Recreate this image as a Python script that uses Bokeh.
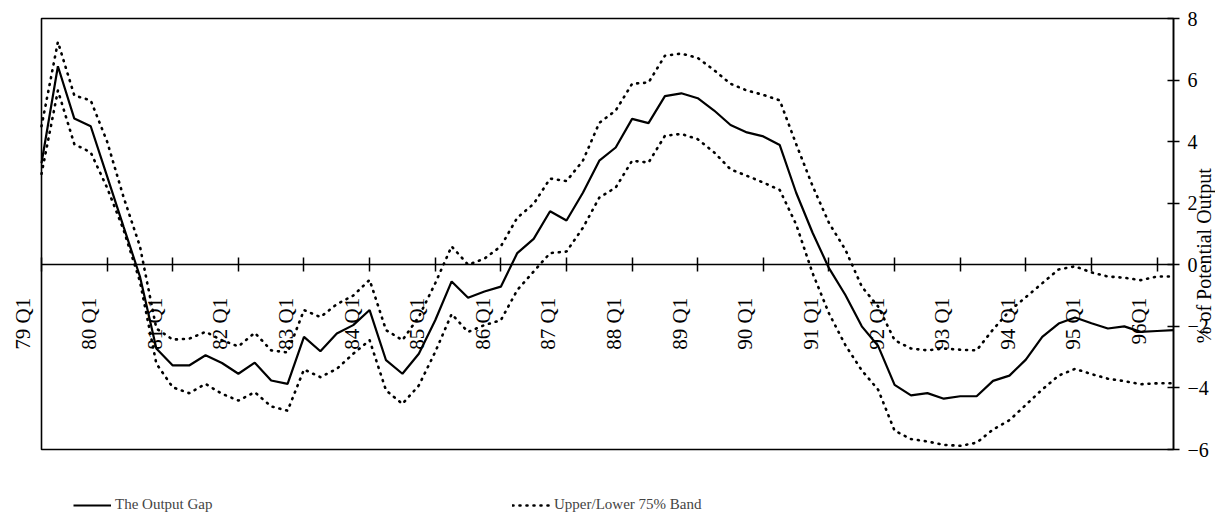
import math
from bokeh.plotting import figure
from bokeh.models import (Range1d, FixedTicker, Legend, LegendItem, LabelSet,
                          Label, ColumnDataSource, LinearAxis, BoxAnnotation,
                          CustomLabelingPolicy)
from bokeh.embed import file_html
from bokeh.resources import INLINE

# quarters 79 Q1 .. 96 Q2
output_gap = [3.3, 6.45, 4.75, 4.5, 2.87, 1.24, -0.38, -2.72, -3.27, -3.27,
              -2.94, -3.19, -3.54, -3.18, -3.76, -3.87, -2.34, -2.81, -2.23, -1.96,
              -1.47, -3.10, -3.54, -2.89, -1.80, -0.54, -1.07, -0.87, -0.71, 0.38,
              0.84, 1.74, 1.44, 2.34, 3.38, 3.81, 4.74, 4.60, 5.48, 5.57,
              5.41, 5.01, 4.54, 4.30, 4.17, 3.89, 2.34, 1.04, -0.11, -0.98,
              -2.0, -2.64, -3.9, -4.24, -4.17, -4.35, -4.27, -4.27, -3.77, -3.6,
              -3.08, -2.34, -1.91, -1.71, -1.9, -2.07, -2.0, -2.18, -2.15, -2.12]
upper_band = [4.5, 7.24, 5.5, 5.34, 4.0, 2.2, 0.6, -2.07, -2.43, -2.40,
              -2.18, -2.45, -2.65, -2.21, -2.78, -2.85, -1.47, -1.7, -1.28, -1.0,
              -0.49, -2.12, -2.45, -1.69, -0.6, 0.6, 0.0, 0.2, 0.6, 1.53,
              1.98, 2.80, 2.72, 3.38, 4.61, 5.01, 5.88, 5.92, 6.79, 6.86,
              6.72, 6.32, 5.88, 5.66, 5.52, 5.34, 3.92, 2.56, 1.36, 0.49,
              -0.71, -1.36, -2.45, -2.72, -2.78, -2.72, -2.76, -2.78, -2.1, -1.5,
              -1.05, -0.6, -0.15, -0.05, -0.25, -0.38, -0.42, -0.5, -0.38, -0.38]
lower_band = [2.95, 5.66, 3.92, 3.65, 2.5, 1.14, -0.54, -3.21, -3.98, -4.17,
              -3.87, -4.19, -4.41, -4.14, -4.6, -4.74, -3.4, -3.65, -3.38, -2.89,
              -2.45, -4.08, -4.52, -3.92, -2.83, -1.6, -2.18, -1.96, -1.8, -0.82,
              -0.22, 0.38, 0.43, 1.20, 2.18, 2.51, 3.38, 3.32, 4.19, 4.25,
              4.08, 3.65, 3.10, 2.89, 2.67, 2.43, 1.31, -0.27, -1.58, -2.61,
              -3.43, -4.06, -5.39, -5.66, -5.74, -5.85, -5.88, -5.78, -5.35, -5.05,
              -4.55, -4.05, -3.6, -3.38, -3.55, -3.7, -3.78, -3.88, -3.85, -3.85]
tick_labels = ["79 Q1", "80 Q1", "81 Q1", "82 Q1", "83 Q1", "84 Q1", "85 Q1",
               "86 Q1", "87 Q1", "88 Q1", "89 Q1", "90 Q1", "91 Q1", "92 Q1",
               "93 Q1", "94 Q1", "95 Q1", "96Q1"]
y_ticks = [-6, -4, -2, 0, 2, 4, 6, 8]
y_min, y_max = -6, 8

n = len(output_gap)
xs = list(range(n))
tick_pos = [4 * i for i in range(len(tick_labels))]

FONT = "Liberation Serif"

# canvas / plot-box geometry (pixels)
W, H = 1215, 519
BOX_L, BOX_R, BOX_T, BOX_B = 41, 1173, 18, 449
ppx = (BOX_R - BOX_L) / (n - 1)
ppy = (BOX_B - BOX_T) / (y_max - y_min)

p = figure(width=W, height=H, output_backend="svg", toolbar_location=None,
           x_range=Range1d(-BOX_L / ppx, (n - 1) + (W - BOX_R) / ppx),
           y_range=Range1d(y_min - (H - BOX_B) / ppy, y_max + BOX_T / ppy),
           x_axis_location=None, y_axis_location=None, min_border=0)
p.xgrid.visible = False
p.ygrid.visible = False
p.outline_line_color = None
p.background_fill_color = "white"
p.border_fill_color = "white"

# plot box
p.add_layout(BoxAnnotation(left=0, right=n - 1, bottom=y_min, top=y_max,
                           fill_color=None, fill_alpha=0,
                           line_color="black", line_alpha=1.0, line_width=1.6))

# x axis crossing at zero (ticks only; labels drawn separately)
xa = LinearAxis(fixed_location=0, bounds=(0, n - 1),
                ticker=FixedTicker(ticks=tick_pos),
                major_label_policy=CustomLabelingPolicy(
                    code="for (const i of indices) indices.unset(i); return indices"))
xa.major_tick_in = 7
xa.major_tick_out = 7
xa.minor_tick_line_color = None
xa.axis_line_width = 1.5
xa.major_tick_line_width = 1.5
p.add_layout(xa, "below")

# right value axis
ya = LinearAxis(fixed_location=n - 1, bounds=(y_min, y_max),
                ticker=FixedTicker(ticks=y_ticks))
ya.major_tick_in = 6
ya.major_tick_out = 6
ya.minor_tick_line_color = None
ya.axis_line_width = 1.5
ya.major_tick_line_width = 1.5
ya.major_label_text_font = FONT
ya.major_label_text_font_size = "20px"
ya.major_label_text_color = "black"
ya.major_label_standoff = 8
p.add_layout(ya, "right")

r_up = p.line(xs, upper_band, line_color="black", line_width=2.6,
              line_dash="1 6", line_cap="round")
r_lo = p.line(xs, lower_band, line_color="black", line_width=2.6,
              line_dash="1 6", line_cap="round")
r_gap = p.line(xs, output_gap, line_color="black", line_width=2.2)

# rotated quarter labels under the zero line
lab_src = ColumnDataSource(dict(x=[t - 18 / ppx for t in tick_pos],
                                y=[-33 / ppy] * len(tick_pos),
                                text=tick_labels))
p.add_layout(LabelSet(x="x", y="y", text="text", source=lab_src,
                      angle=math.pi / 2, text_align="right",
                      text_baseline="middle", text_font=FONT,
                      text_font_size="21px", text_color="black"))

p.add_layout(Label(x=(n - 1) + 30 / ppx, y=9 / ppy,
                   text="% of Potential Output",
                   angle=math.pi / 2, text_align="center",
                   text_baseline="middle", text_font=FONT,
                   text_font_size="20px", text_color="black"))

for item, loc in ((LegendItem(label="The Output Gap", renderers=[r_gap]), (73, 6)),
                  (LegendItem(label="Upper/Lower 75% Band", renderers=[r_up]), (512, 6))):
    lg = Legend(items=[item], location=loc, orientation="horizontal",
                padding=0, margin=0, glyph_width=38, glyph_height=16,
                label_height=16, label_standoff=4, border_line_color=None,
                background_fill_alpha=0, label_text_font=FONT,
                label_text_font_size="15px")
    p.add_layout(lg)

open("out.html", "w").write(file_html(p, INLINE))
